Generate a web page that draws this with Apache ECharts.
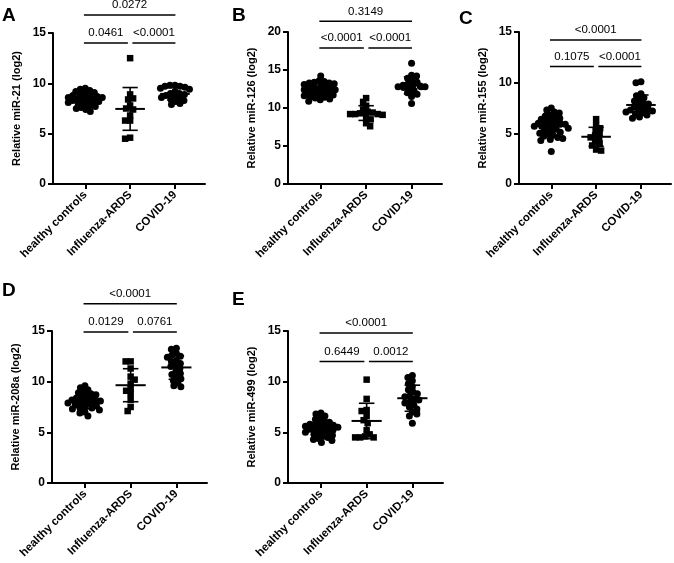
<!DOCTYPE html>
<html><head><meta charset="utf-8">
<script src="https://cdn.jsdelivr.net/npm/echarts@6/dist/echarts.min.js"></script>
<style>html,body{margin:0;padding:0;background:#fff}#c{width:674px;height:563px}</style>
</head><body><div id="c"></div><script>
// ---------- data ----------
const categories = ['healthy controls', 'Influenza-ARDS', 'COVID-19'];
const panelLetters = ['A', 'B', 'C', 'D', 'E'];
const yNames = ['Relative miR-21 (log2)', 'Relative miR-126 (log2)', 'Relative miR-155 (log2)', 'Relative miR-208a (log2)', 'Relative miR-499 (log2)'];
const yMax = [15, 20, 15, 15, 15];
const yTickInterval = 5;

const A_healthy = [9.5, 9.4, 9.3, 9.2, 9.1, 9.0, 8.9, 8.8, 8.8, 8.7, 8.6, 8.6, 8.5, 8.5, 8.4, 8.4, 8.4, 8.3, 8.3, 8.2, 8.2, 8.1, 8.0, 7.9, 7.8, 7.7, 7.6, 7.5, 7.4, 7.2];
const A_flu = [12.5, 8.9, 8.5, 8.4, 7.8, 7.5, 7.4, 6.8, 6.3, 6.3, 4.6, 4.5];
const A_covid = [9.8, 9.8, 9.7, 9.7, 9.6, 9.5, 9.4, 9.2, 9.0, 9.0, 8.9, 8.8, 8.7, 8.6, 8.5, 8.4, 8.3, 8.2, 8.0, 7.9];

const B_healthy = [14.2, 13.6, 13.5, 13.4, 13.3, 13.3, 13.2, 13.1, 13.0, 12.9, 12.8, 12.7, 12.6, 12.5, 12.4, 12.4, 12.3, 12.2, 12.1, 12.0, 12.0, 11.9, 11.8, 11.7, 11.6, 11.5, 11.4, 11.3, 11.2, 11.1, 10.9];
const B_flu = [11.3, 10.8, 10.3, 9.8, 9.4, 9.5, 9.3, 9.2, 9.2, 9.2, 9.1, 8.8, 8.5, 8.0, 7.6];
const B_covid = [15.9, 14.3, 14.2, 13.9, 13.6, 13.4, 13.2, 13.0, 12.9, 12.9, 12.8, 12.8, 12.8, 12.7, 12.6, 12.3, 12.0, 11.8, 11.5, 10.6];

const C_healthy = [7.5, 7.3, 7.1, 7.0, 6.8, 6.7, 6.6, 6.5, 6.4, 6.3, 6.2, 6.1, 6.0, 6.0, 5.9, 5.9, 5.9, 5.8, 5.8, 5.8, 5.7, 5.7, 5.6, 5.5, 5.4, 5.3, 5.2, 5.1, 5.0, 4.9, 4.8, 4.7, 4.6, 4.5, 4.4, 4.3, 3.2];
const C_flu = [6.4, 5.8, 5.5, 5.3, 5.0, 4.8, 4.6, 4.5, 4.2, 4.0, 3.8, 3.4, 3.3];
const C_covid = [10.1, 10.0, 8.9, 8.7, 8.5, 8.3, 8.2, 8.0, 7.9, 7.8, 7.6, 7.5, 7.4, 7.3, 7.3, 7.2, 7.1, 7.0, 6.9, 6.8, 6.6, 6.5];

const D_healthy = [9.6, 9.4, 9.2, 9.0, 8.9, 8.8, 8.7, 8.6, 8.5, 8.4, 8.3, 8.2, 8.2, 8.1, 8.1, 8.0, 8.0, 7.9, 7.9, 7.8, 7.8, 7.7, 7.6, 7.5, 7.4, 7.4, 7.3, 7.2, 7.0, 6.9, 6.6];
const D_flu = [12.0, 12.0, 11.3, 10.5, 10.2, 9.8, 9.3, 9.1, 8.8, 8.2, 7.5, 7.1];
const D_covid = [13.3, 13.2, 12.8, 12.6, 12.5, 12.4, 12.1, 12.0, 11.8, 11.6, 11.5, 11.3, 11.0, 10.8, 10.7, 10.5, 10.3, 10.1, 9.9, 9.6, 9.5];

const E_healthy = [6.9, 6.8, 6.6, 6.4, 6.3, 6.1, 6.0, 5.9, 5.8, 5.8, 5.7, 5.6, 5.6, 5.5, 5.5, 5.4, 5.3, 5.3, 5.2, 5.1, 5.0, 5.0, 4.9, 4.8, 4.7, 4.6, 4.5, 4.4, 4.3, 4.2, 4.0];
const E_flu = [10.2, 8.3, 7.2, 7.1, 6.6, 6.2, 5.9, 5.2, 4.8, 4.6, 4.5, 4.5, 4.5];
const E_covid = [10.6, 10.4, 10.1, 9.8, 9.5, 9.2, 9.0, 8.8, 8.6, 8.5, 8.3, 8.2, 8.0, 7.9, 7.7, 7.5, 7.3, 7.0, 6.8, 6.6, 5.9];

// p-values: [healthy vs flu, flu vs covid, healthy vs covid]
const pA = ['0.0461', '<0.0001', '0.0272'];
const pB = ['<0.0001', '<0.0001', '0.3149'];
const pC = ['0.1075', '<0.0001', '<0.0001'];
const pD = ['0.0129', '0.0761', '<0.0001'];
const pE = ['0.6449', '0.0012', '<0.0001'];

const groups = [
  [A_healthy, A_flu, A_covid],
  [B_healthy, B_flu, B_covid],
  [C_healthy, C_flu, C_covid],
  [D_healthy, D_flu, D_covid],
  [E_healthy, E_flu, E_covid]
];
const pvals = [pA, pB, pC, pD, pE];

// ---------- layout ----------
const FONT = '"Liberation Sans", Arial, sans-serif';
const grids = [
  { left: 53, top: 33, width: 152, height: 151 },
  { left: 288, top: 32, width: 154, height: 152 },
  { left: 519, top: 32, width: 152, height: 152 },
  { left: 52, top: 331, width: 155, height: 152 },
  { left: 288, top: 331, width: 155, height: 152 }
];
const letterPos = [[2, 6], [232, 6], [459, 9], [2, 281], [232, 290]];
const bracketLevels = [[14.0, 16.8], [17.9, 21.4], [11.6, 14.2], [14.9, 17.7], [12.0, 14.8]];
const X_MIN = -0.72, X_MAX = 2.67;
const MAX_SPREAD = 17; // px half-width of swarm

function mean(a) { return a.reduce((s, v) => s + v, 0) / a.length; }
function sd(a) { const m = mean(a); return Math.sqrt(a.reduce((s, v) => s + (v - m) * (v - m), 0) / (a.length - 1)); }

// beeswarm layout (pixel space) -> offsets in x units
function swarm(values, pxPerY, pxPerX, D) {
  const order = values.map((v, i) => i).sort((a, b) => values[b] - values[a]);
  const placed = [];
  const offs = new Array(values.length);
  let flip = 1;
  for (const i of order) {
    const py = values[i] * pxPerY;
    let chosen = null;
    for (let k = 0; k < 400; k++) {
      const mag = Math.ceil(k / 2) * 0.5;
      if (mag > MAX_SPREAD) break;
      const cand = k === 0 ? 0 : (k % 2 ? mag * flip : -mag * flip);
      let ok = true;
      for (const p of placed) {
        const dx = cand - p[0], dy = py - p[1];
        if (dx * dx + dy * dy < D * D) { ok = false; break; }
      }
      if (ok) { chosen = cand; break; }
    }
    if (chosen === null) chosen = ((placed.length * 7) % 29 - 14) * 0.8;
    flip = -flip;
    placed.push([chosen, py]);
    offs[i] = chosen / pxPerX;
  }
  return offs;
}

const option = {
  animation: false,
  backgroundColor: '#fff',
  grid: grids.map(g => Object.assign({ containLabel: false }, g)),
  xAxis: [], yAxis: [], series: [],
  graphic: panelLetters.map((L, i) => ({
    type: 'text', left: letterPos[i][0], top: letterPos[i][1],
    style: { text: L, font: 'bold 19px ' + FONT, fill: '#000' }
  }))
};

grids.forEach((g, pi) => {
  option.xAxis.push({
    gridIndex: pi, type: 'value', min: X_MIN, max: X_MAX,
    axisLine: { show: true, onZero: false, lineStyle: { color: '#000', width: 2 } },
    axisTick: { show: true, customValues: [0, 1, 2], length: 5, lineStyle: { color: '#000', width: 2 } },
    axisLabel: {
      customValues: [0, 1, 2], rotate: 45, margin: 9,
      formatter: v => categories[Math.round(v)],
      fontFamily: FONT, fontWeight: 'bold', fontSize: 11.5, color: '#000'
    },
    splitLine: { show: false }
  });
  option.yAxis.push({
    gridIndex: pi, type: 'value', min: 0, max: yMax[pi], interval: yTickInterval,
    name: yNames[pi], nameLocation: 'middle', nameGap: 31,
    nameTextStyle: { fontFamily: FONT, fontWeight: 'bold', fontSize: 11, color: '#000' },
    axisLine: { show: true, onZero: false, lineStyle: { color: '#000', width: 2 } },
    axisTick: { show: true, length: 5, lineStyle: { color: '#000', width: 2 } },
    axisLabel: { fontFamily: FONT, fontWeight: 'bold', fontSize: 12, color: '#000', margin: 7 },
    splitLine: { show: false }
  });
  const pxPerY = g.height / yMax[pi];
  const pxPerX = g.width / (X_MAX - X_MIN);
  const stats = [];
  groups[pi].forEach((vals, ci) => {
    const offs = swarm(vals, pxPerY, pxPerX, 4.8);
    option.series.push({
      type: 'scatter', xAxisIndex: pi, yAxisIndex: pi,
      symbol: ci === 1 ? 'rect' : 'circle', symbolSize: ci === 1 ? 6.5 : 7,
      itemStyle: { color: '#000', opacity: 1 },
      data: vals.map((v, k) => [ci + offs[k], v]),
      z: 2
    });
    stats.push([ci, mean(vals), sd(vals)]);
  });
  // mean +/- SD
  option.series.push({
    type: 'custom', xAxisIndex: pi, yAxisIndex: pi, z: 3, clip: false,
    encode: { x: 0, y: 1 },
    data: stats,
    renderItem: (params, api) => {
      const c = api.value(0), m = api.value(1), s = api.value(2);
      const L = api.coord([c - 0.33, m]), R = api.coord([c + 0.33, m]);
      const T = api.coord([c, m + s]), B = api.coord([c, m - s]);
      const TL = api.coord([c - 0.17, m + s]), TR = api.coord([c + 0.17, m + s]);
      const BL = api.coord([c - 0.17, m - s]), BR = api.coord([c + 0.17, m - s]);
      const st = { stroke: '#000', lineWidth: 1.6 };
      return { type: 'group', children: [
        { type: 'line', shape: { x1: L[0], y1: L[1], x2: R[0], y2: R[1] }, style: { stroke: '#000', lineWidth: 2 } },
        { type: 'line', shape: { x1: T[0], y1: T[1], x2: B[0], y2: B[1] }, style: st },
        { type: 'line', shape: { x1: TL[0], y1: TL[1], x2: TR[0], y2: TR[1] }, style: st },
        { type: 'line', shape: { x1: BL[0], y1: BL[1], x2: BR[0], y2: BR[1] }, style: st }
      ] };
    }
  });
  // significance brackets
  const lv = bracketLevels[pi];
  const p = pvals[pi];
  option.series.push({
    type: 'custom', xAxisIndex: pi, yAxisIndex: pi, z: 4, clip: false,
    encode: { x: [0, 1], y: 2 },
    data: [[-0.03, 0.95, lv[0], 0], [1.05, 2.01, lv[0], 1], [-0.03, 2.01, lv[1], 2]],
    renderItem: (params, api) => {
      const a = api.coord([api.value(0), api.value(2)]);
      const b = api.coord([api.value(1), api.value(2)]);
      const label = p[api.value(3)];
      return { type: 'group', children: [
        { type: 'line', shape: { x1: a[0], y1: a[1], x2: b[0], y2: b[1] }, style: { stroke: '#000', lineWidth: 1.5 } },
        { type: 'text', x: (a[0] + b[0]) / 2, y: a[1] - 4,
          style: { text: label, font: '11.5px ' + FONT, fill: '#000', align: 'center', verticalAlign: 'bottom' } }
      ] };
    }
  });
});

const chart = echarts.init(document.getElementById('c'), null, { renderer: 'canvas' });
chart.setOption(option);
</script></body></html>
